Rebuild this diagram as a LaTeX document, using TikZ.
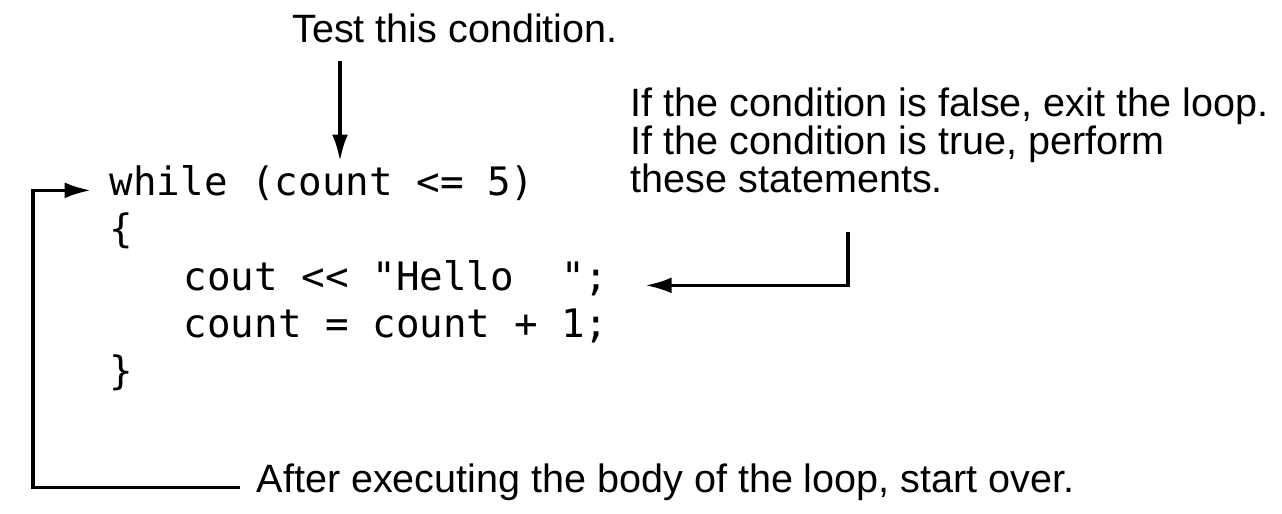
\documentclass[tikz,border=0pt]{standalone}
\usepackage{fontspec}
\setmainfont{Liberation Sans}
\setmonofont{DejaVu Sans Mono}
\usetikzlibrary{arrows.meta}

\begin{document}
\begin{tikzpicture}[line width=2pt, >={Latex[length=15pt,width=9pt]},
    code/.style={anchor=base west, inner sep=0, font=\fontsize{22.3}{26}\ttfamily},
    note/.style={inner sep=0, align=left, font=\fontsize{22.5}{21.6}\selectfont}]
  \useasboundingbox (0,0) rectangle (25.64,-10.28);
  % code lines
  \node[code] (while) at (2.16,-3.9) {while (count <= 5)};
  \node[code] (ob) at (2.16,-4.85) {\{};
  \node[code] (cout) at (3.64,-5.8) {cout << "Hello\ \ ";};
  \node[code] (inc) at (3.64,-6.74) {count = count + 1;};
  \node[code] (cb) at (2.16,-7.68) {\}};
  % notes
  \node[note, anchor=base] (test) at (9.1,-0.86) {Test this condition.};
  \node[note, anchor=base west] (cond) at (12.58,-3.84) {If the condition is false, exit the loop.\\If the condition is true, perform\\these statements.};
  \node[note, anchor=base west] (after) at (5.1,-9.84) {After executing the body of the loop, start over.};
  \coordinate (cnd) at (6.8,-3.22);
  \coordinate (turn) at (16.96,0);
  \coordinate (back) at (0.66,0);
  \draw[->] ([yshift=-0.36cm]test.base -| cnd) -- (cnd);
  \draw[->, shorten >=0.7cm] ([yshift=-0.75cm]cond.south -| turn) |- (cout.mid east);
  \draw[->, shorten >=0.34cm] ([xshift=-0.3cm]after.mid west) -| (back |- while.mid west) -- (while.mid west);
\end{tikzpicture}
\end{document}
